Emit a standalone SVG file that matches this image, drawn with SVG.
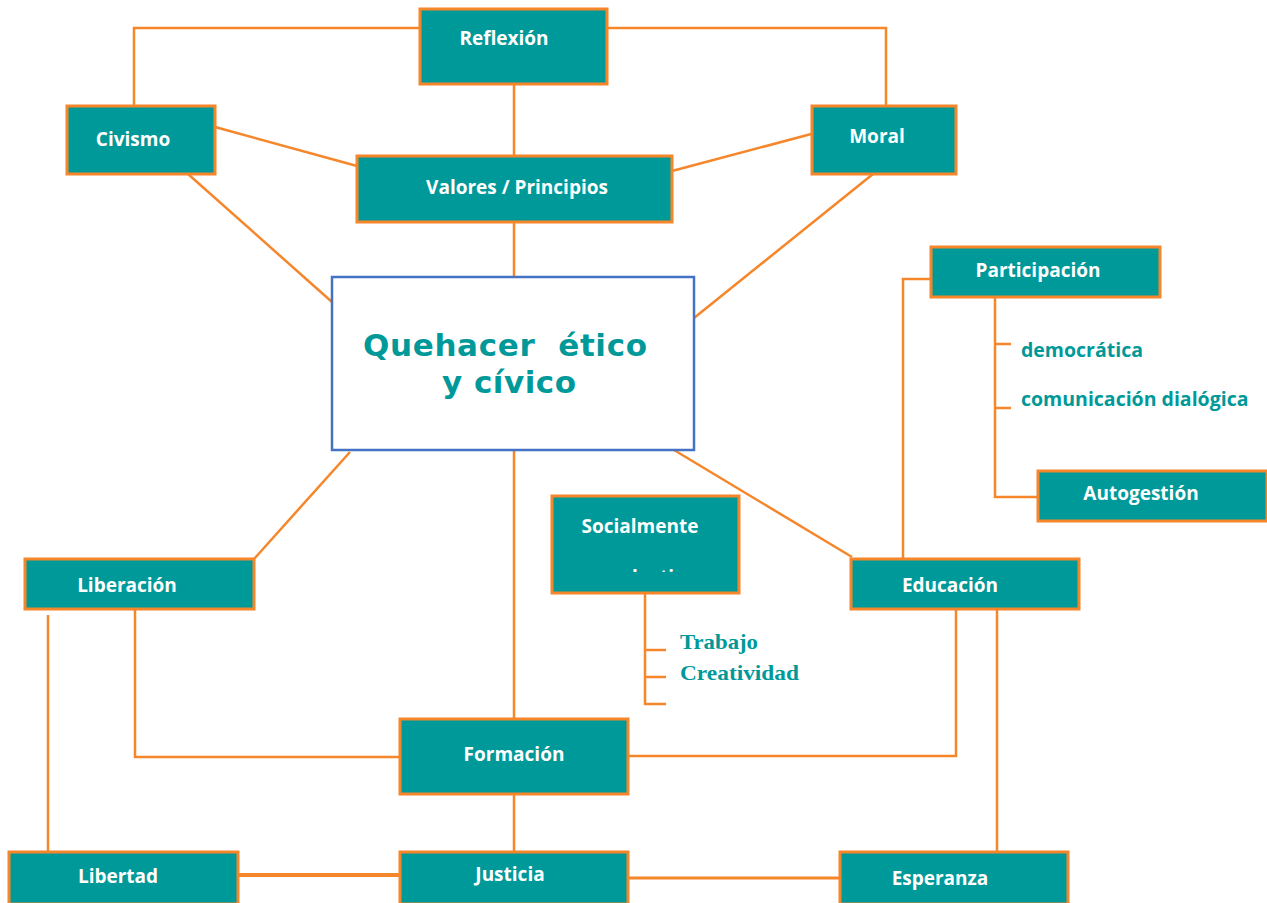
<svg xmlns="http://www.w3.org/2000/svg" width="1267" height="903" viewBox="0 0 1267 903">
<style>
.box{fill:#009999;stroke:#F5862A;stroke-width:3}
.lbl{font-family:"Open Sans","Liberation Sans",sans-serif;font-weight:700;font-size:19px;fill:#ffffff;text-anchor:middle}
.sub{font-family:"Open Sans","Liberation Sans",sans-serif;font-weight:700;font-size:19.5px;fill:#009999}
.ser{font-family:"Liberation Serif",serif;font-weight:700;font-size:21.5px;fill:#009999}
.con{fill:none;stroke:#F5862A;stroke-width:2.5;stroke-linejoin:miter}
.main{font-family:"DejaVu Sans","Verdana",sans-serif;font-weight:700;font-size:31px;fill:#009999}
</style>
<defs>
<clipPath id="socClip"><rect x="552" y="496" width="187" height="76"/></clipPath>
</defs>
<rect width="1267" height="903" fill="#ffffff"/>
<g id="connectors">
<polyline class="con" points="420,28 134,28 134,106"/>
<polyline class="con" points="607,28 886,28 886,106"/>
<line class="con" x1="514" y1="84" x2="514" y2="156"/>
<line class="con" x1="215" y1="127" x2="357" y2="166"/>
<line class="con" x1="815" y1="133" x2="672" y2="171"/>
<line class="con" x1="188" y1="174" x2="332" y2="302"/>
<line class="con" x1="873" y1="174" x2="694" y2="318"/>
<line class="con" x1="514" y1="222" x2="514" y2="278"/>
<line class="con" x1="350" y1="452" x2="254" y2="559"/>
<line class="con" x1="514" y1="450" x2="514" y2="719"/>
<line class="con" x1="674" y1="450" x2="852" y2="557"/>
<polyline class="con" points="903,559 903,279 931,279"/>
<polyline class="con" points="995,297 995,497 1038,497"/>
<line class="con" x1="995" y1="344" x2="1011" y2="344"/>
<line class="con" x1="995" y1="408" x2="1011" y2="408"/>
<polyline class="con" points="645,593 645,704 666,704"/>
<line class="con" x1="645" y1="650" x2="666" y2="650"/>
<line class="con" x1="645" y1="677" x2="666" y2="677"/>
<line class="con" x1="48" y1="615" x2="48" y2="852"/>
<polyline class="con" points="135,609 135,757 400,757"/>
<polyline class="con" points="628,756 956,756 956,609"/>
<line class="con" x1="997" y1="609" x2="997" y2="852"/>
<line class="con" x1="514" y1="794" x2="514" y2="852"/>
<line class="con" x1="238" y1="875" x2="400" y2="875" style="stroke-width:4"/>
<line class="con" x1="628" y1="878" x2="840" y2="878" style="stroke-width:3"/>
</g>
<g id="reflexion"><rect class="box" x="420" y="9" width="187" height="75"/><text class="lbl" x="504" y="45">Reflexión</text></g>
<g id="civismo"><rect class="box" x="67" y="106" width="148" height="68"/><text class="lbl" x="133" y="146">Civismo</text></g>
<g id="valores"><rect class="box" x="357" y="156" width="315" height="66"/><text class="lbl" x="517" y="194">Valores / Principios</text></g>
<g id="moral"><rect class="box" x="812" y="106" width="144" height="68"/><text class="lbl" x="877" y="143">Moral</text></g>
<g id="central"><rect x="332" y="277" width="362" height="173" fill="#ffffff" stroke="#4472C4" stroke-width="2.5"/>
<text class="main" xml:space="preserve"><tspan x="363" y="356" textLength="284" lengthAdjust="spacing">Quehacer  ético</tspan><tspan x="442" y="393" textLength="134" lengthAdjust="spacing">y cívico</tspan></text></g>
<g id="participacion"><rect class="box" x="931" y="247" width="229" height="50"/><text class="lbl" x="1038" y="277">Participación</text></g>
<g id="democratica"><text class="sub" x="1021" y="357">democrática</text></g>
<g id="comunicacion"><text class="sub" x="1021" y="406">comunicación dialógica</text></g>
<g id="autogestion"><rect class="box" x="1038" y="471" width="229" height="50"/><text class="lbl" x="1141" y="500">Autogestión</text></g>
<g id="socialmente"><rect class="box" x="552" y="496" width="187" height="97"/><text class="lbl" x="640" y="533">Socialmente</text>
<text class="lbl" x="645" y="584" clip-path="url(#socClip)">productivo</text></g>
<g id="trabajo"><text class="ser" x="680" y="649" textLength="78" lengthAdjust="spacingAndGlyphs">Trabajo</text></g>
<g id="creatividad"><text class="ser" x="680" y="680" textLength="119" lengthAdjust="spacingAndGlyphs">Creatividad</text></g>
<g id="liberacion"><rect class="box" x="25" y="559" width="229" height="50"/><text class="lbl" x="127" y="592">Liberación</text></g>
<g id="educacion"><rect class="box" x="851" y="559" width="228" height="50"/><text class="lbl" x="950" y="592">Educación</text></g>
<g id="formacion"><rect class="box" x="400" y="719" width="228" height="75"/><text class="lbl" x="514" y="761">Formación</text></g>
<g id="libertad"><rect class="box" x="9" y="852" width="229" height="52"/><text class="lbl" x="118" y="883">Libertad</text></g>
<g id="justicia"><rect class="box" x="400" y="852" width="228" height="52"/><text class="lbl" x="510" y="881">Justicia</text></g>
<g id="esperanza"><rect class="box" x="840" y="852" width="228" height="52"/><text class="lbl" x="940" y="885">Esperanza</text></g>
</svg>
